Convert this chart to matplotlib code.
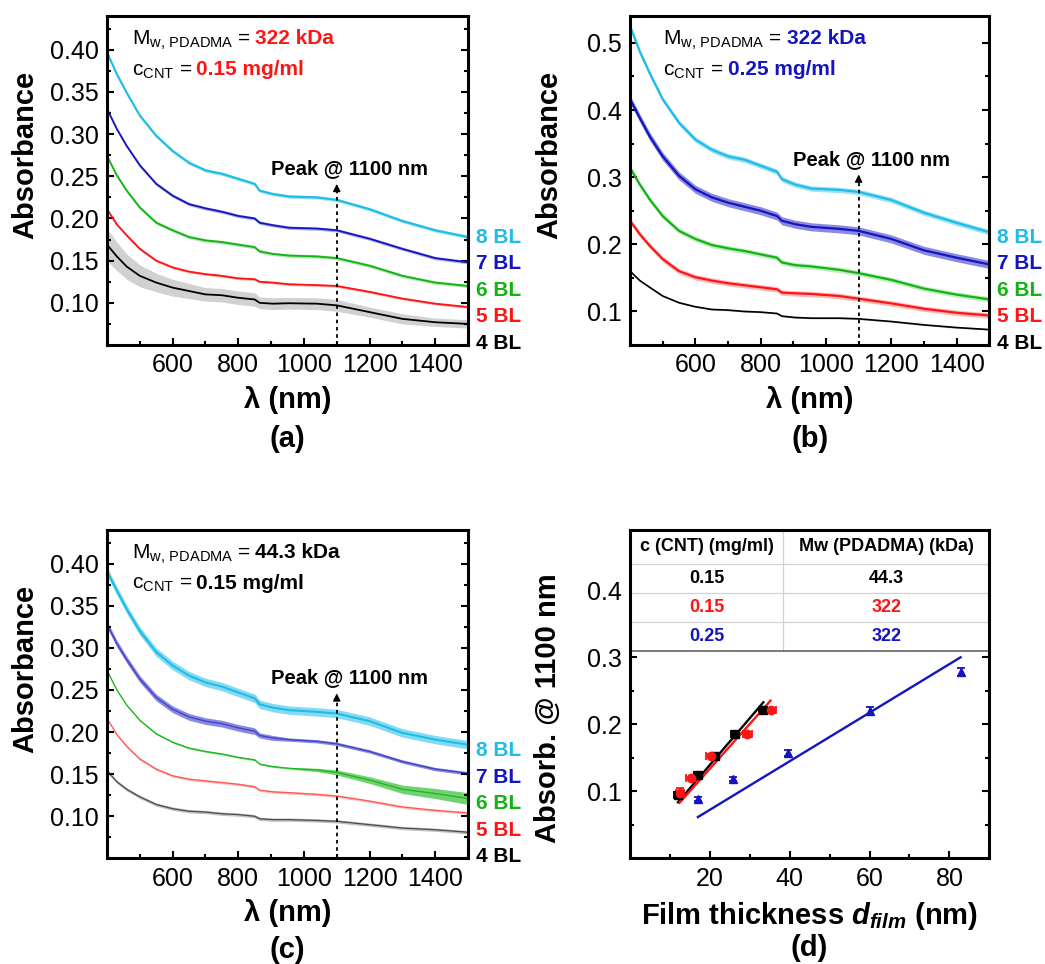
import numpy as np
import matplotlib
matplotlib.use('Agg')
import matplotlib.pyplot as plt
from matplotlib.ticker import MultipleLocator, FixedLocator
from matplotlib.patches import Rectangle

plt.rcParams['font.family'] = 'Liberation Sans'
plt.rcParams['mathtext.fontset'] = 'custom'
plt.rcParams['mathtext.rm'] = 'Liberation Sans'
plt.rcParams['mathtext.it'] = 'Liberation Sans:italic:bold'
plt.rcParams['mathtext.bf'] = 'Liberation Sans:bold'

# wavelength grid (nm), detector change near 860 nm
wl = [400, 430, 460, 500, 550, 600, 650, 700, 750, 800, 850, 865, 905, 955,
      1040, 1100, 1200, 1300, 1400, 1500]

layers = ['4 BL', '5 BL', '6 BL', '7 BL', '8 BL']
colors = ['black', '#ff1414', '#12b312', '#1414c0', '#1ebde8']

# (a) Mw 322 kDa, c 0.15 mg/ml
a_4bl = [0.169, 0.155, 0.143, 0.132, 0.124, 0.118, 0.114, 0.110, 0.109, 0.106, 0.104, 0.100, 0.099, 0.0995, 0.099, 0.097, 0.089, 0.081, 0.077, 0.075]
a_5bl = [0.211, 0.193, 0.180, 0.164, 0.150, 0.142, 0.137, 0.134, 0.132, 0.129, 0.128, 0.125, 0.124, 0.122, 0.121, 0.120, 0.113, 0.105, 0.099, 0.095]
a_6bl = [0.274, 0.251, 0.233, 0.213, 0.195, 0.186, 0.178, 0.174, 0.172, 0.169, 0.166, 0.161, 0.158, 0.156, 0.155, 0.153, 0.144, 0.132, 0.124, 0.120]
a_7bl = [0.330, 0.306, 0.286, 0.263, 0.241, 0.227, 0.217, 0.212, 0.208, 0.203, 0.200, 0.195, 0.192, 0.189, 0.188, 0.186, 0.176, 0.164, 0.153, 0.148]
a_8bl = [0.397, 0.371, 0.349, 0.322, 0.298, 0.280, 0.266, 0.257, 0.253, 0.247, 0.241, 0.233, 0.229, 0.226, 0.225, 0.222, 0.211, 0.197, 0.186, 0.178]
a_4bl_err = [0.019, 0.017, 0.015, 0.013, 0.011, 0.010, 0.009, 0.008, 0.008, 0.008, 0.008, 0.007, 0.007, 0.007, 0.007, 0.007, 0.006, 0.006, 0.005, 0.005]
a_err = [a_4bl_err, 0.0015, 0.002, 0.002, 0.002]

# (b) Mw 322 kDa, c 0.25 mg/ml
b_4bl = [0.160, 0.146, 0.136, 0.123, 0.113, 0.107, 0.103, 0.102, 0.100, 0.099, 0.097, 0.093, 0.091, 0.090, 0.090, 0.089, 0.085, 0.080, 0.076, 0.073]
b_5bl = [0.235, 0.215, 0.198, 0.178, 0.160, 0.151, 0.146, 0.142, 0.139, 0.136, 0.133, 0.128, 0.127, 0.126, 0.123, 0.119, 0.112, 0.104, 0.098, 0.094]
b_6bl = [0.314, 0.289, 0.267, 0.242, 0.220, 0.208, 0.199, 0.194, 0.190, 0.185, 0.180, 0.173, 0.169, 0.167, 0.162, 0.157, 0.147, 0.134, 0.125, 0.118]
b_7bl = [0.416, 0.388, 0.361, 0.331, 0.302, 0.282, 0.270, 0.262, 0.256, 0.250, 0.242, 0.235, 0.230, 0.226, 0.223, 0.220, 0.208, 0.191, 0.180, 0.170]
b_8bl = [0.525, 0.487, 0.455, 0.416, 0.381, 0.356, 0.341, 0.331, 0.326, 0.317, 0.308, 0.297, 0.289, 0.283, 0.281, 0.278, 0.266, 0.247, 0.232, 0.218]
b_err = [0.001, 0.004, 0.004, 0.006, 0.004]

# (c) Mw 44.3 kDa, c 0.15 mg/ml
c_4bl = [0.154, 0.141, 0.132, 0.123, 0.114, 0.109, 0.106, 0.105, 0.103, 0.102, 0.100, 0.097, 0.096, 0.096, 0.095, 0.094, 0.090, 0.086, 0.084, 0.081]
c_5bl = [0.216, 0.197, 0.183, 0.168, 0.156, 0.148, 0.144, 0.142, 0.140, 0.138, 0.135, 0.131, 0.129, 0.128, 0.126, 0.124, 0.118, 0.111, 0.107, 0.104]
c_6bl = [0.273, 0.250, 0.232, 0.214, 0.198, 0.188, 0.181, 0.177, 0.174, 0.170, 0.167, 0.162, 0.159, 0.157, 0.155, 0.152, 0.143, 0.132, 0.127, 0.121]
c_7bl = [0.328, 0.305, 0.286, 0.263, 0.241, 0.227, 0.218, 0.213, 0.210, 0.205, 0.201, 0.196, 0.193, 0.191, 0.189, 0.186, 0.177, 0.165, 0.156, 0.151]
c_8bl = [0.391, 0.368, 0.346, 0.320, 0.295, 0.279, 0.267, 0.259, 0.254, 0.247, 0.240, 0.233, 0.229, 0.226, 0.224, 0.222, 0.213, 0.199, 0.191, 0.185]
c_6bl_err = [0.001, 0.001, 0.001, 0.001, 0.001, 0.001, 0.001, 0.001, 0.001, 0.001, 0.001, 0.001, 0.001, 0.001, 0.002, 0.003, 0.004, 0.005, 0.006, 0.007]
c_7bl_err = [0.004, 0.004, 0.004, 0.004, 0.004, 0.004, 0.004, 0.004, 0.004, 0.004, 0.004, 0.003, 0.003, 0.002, 0.002, 0.002, 0.002, 0.002, 0.002, 0.002]
c_err = [0.002, 0.0015, c_6bl_err, c_7bl_err, 0.005]

# (d) film thickness (nm); absorbance is taken from the spectra at 1100 nm
thick_443_015 = [12.0, 17.0, 21.4, 26.2, 33.4]
thick_322_015 = [12.4, 15.3, 20.4, 29.4, 35.2]
thick_322_025 = [17.0, 25.9, 39.5, 60.0, 82.8]
xerr_443_015 = [1.0, 1.0, 1.0, 1.0, 1.0]
xerr_322_015 = [1.0, 1.2, 1.3, 1.2, 1.3]
yerr_443_015 = [0.002, 0.002, 0.002, 0.002, 0.002]
yerr_322_015 = [0.0075, 0.002, 0.002, 0.002, 0.002]
yerr_322_025 = [0.003, 0.003, 0.005, 0.006, 0.006]

table_header = ['c (CNT) (mg/ml)', 'Mw (PDADMA) (kDa)']
table_conc = ['0.15', '0.15', '0.25']
table_mw = ['44.3', '322', '322']
table_colors = ['black', '#ff1414', '#1414c0']

fig = plt.figure(figsize=(10.45, 9.64), dpi=100)
ax_a = fig.add_axes([0.1024, 0.6421, 0.3455, 0.3413])
ax_b = fig.add_axes([0.6029, 0.6421, 0.3438, 0.3413])
ax_c = fig.add_axes([0.1024, 0.1096, 0.3455, 0.3406])
ax_d = fig.add_axes([0.6029, 0.1096, 0.3438, 0.3406])


def style_axes(ax):
    for sp in ax.spines.values():
        sp.set_linewidth(2.2)
    ax.tick_params(which='both', direction='in', left=True, right=True,
                   top=False, bottom=True, labelsize=18, width=1.5)
    ax.tick_params(which='major', length=5, pad=6)
    ax.tick_params(which='minor', length=3)


def spectra(ax, curves, errs, ylim, yticks, yfmt, mw, conc, hl, info_x, lws,
            alphas, band_alpha, peak_y, tip_y, letter, letter_y):
    x = np.array(wl)
    for i in range(5):
        y = np.array(curves[i])
        e = np.array(errs[i])
        ax.fill_between(x, y - e, y + e, color=colors[i], alpha=band_alpha[i],
                        lw=0)
        ax.plot(x, y, color=colors[i], lw=lws[i], alpha=alphas[i],
                solid_joinstyle='round')
    ax.set_xlim(400, 1500)
    ax.set_ylim(*ylim)
    ax.xaxis.set_major_locator(FixedLocator([600, 800, 1000, 1200, 1400]))
    ax.xaxis.set_minor_locator(MultipleLocator(100))
    ax.yaxis.set_major_locator(FixedLocator(yticks))
    ax.yaxis.set_minor_locator(MultipleLocator((yticks[1] - yticks[0]) / 2))
    ax.set_yticklabels([yfmt % v for v in yticks])
    style_axes(ax)

    ax.set_xlabel(r'λ (nm)', fontsize=21, fontweight='bold', va='center')
    ax.xaxis.set_label_coords(0.5, -0.167)
    ax.set_ylabel('Absorbance', fontsize=21, fontweight='bold', va='center')
    ax.yaxis.set_label_coords(-0.225, 0.578)
    ax.text(0.5, letter_y, letter, transform=ax.transAxes, ha='center',
            va='center', fontsize=21, fontweight='bold')

    # composition info, two lines
    t1 = ax.text(info_x, 0.914, r'M$_{\mathrm{w,}\,\mathrm{PDADMA}}$ =',
                 transform=ax.transAxes, fontsize=15, va='baseline')
    ax.annotate(mw, xy=(1, 0.914), xycoords=(t1, 'axes fraction'),
                xytext=(3, 0), textcoords='offset points',
                fontsize=15, fontweight='bold', color=hl, va='baseline')
    t2 = ax.text(info_x, 0.82, r'c$_{\mathrm{CNT}}$ =', transform=ax.transAxes,
                 fontsize=15, va='baseline')
    ax.annotate(conc, xy=(1, 0.82), xycoords=(t2, 'axes fraction'),
                xytext=(3, 0), textcoords='offset points',
                fontsize=15, fontweight='bold', color=hl, va='baseline')

    # 1100 nm marker
    ax.text(900, peak_y, 'Peak @ 1100 nm', fontsize=14.5, fontweight='bold',
            va='baseline')
    ax.vlines(1100, ylim[0], tip_y - 0.004, colors='k', lw=1.3,
              linestyles=(0, (2, 2)))
    ax.annotate('', xy=(1100, tip_y), xytext=(1100, tip_y - 0.006),
                arrowprops=dict(arrowstyle='-|>', color='k', lw=1.0,
                                mutation_scale=11, shrinkA=0, shrinkB=0))

    for i in range(5):
        ax.text(1.022, 0.005 + i * 0.0808, layers[i], transform=ax.transAxes,
                color=colors[i], fontsize=15, fontweight='bold', va='center',
                clip_on=False)


spectra(ax_a, [a_4bl, a_5bl, a_6bl, a_7bl, a_8bl], a_err, (0.05, 0.44),
        [0.10, 0.15, 0.20, 0.25, 0.30, 0.35, 0.40], '%.2f',
        '322 kDa', '0.15 mg/ml', '#ff1414', 0.068,
        [1.3, 1.3, 1.3, 1.3, 1.5], [1, 1, 1, 1, 1],
        [0.18, 0.35, 0.35, 0.35, 0.45], 0.253, 0.241, '(a)', -0.287)
spectra(ax_b, [b_4bl, b_5bl, b_6bl, b_7bl, b_8bl], b_err, (0.05, 0.54),
        [0.1, 0.2, 0.3, 0.4, 0.5], '%.1f',
        '322 kDa', '0.25 mg/ml', '#1414c0', 0.093,
        [1.2, 1.6, 1.6, 1.6, 1.6], [1, 1, 1, 1, 1],
        [0.3, 0.3, 0.25, 0.5, 0.45], 0.318, 0.304, '(b)', -0.287)
spectra(ax_c, [c_4bl, c_5bl, c_6bl, c_7bl, c_8bl], c_err, (0.05, 0.44),
        [0.10, 0.15, 0.20, 0.25, 0.30, 0.35, 0.40], '%.2f',
        '44.3 kDa', '0.15 mg/ml', 'black', 0.068,
        [0.9, 0.9, 0.9, 1.0, 1.5], [0.6, 0.6, 0.9, 0.6, 1],
        [0.25, 0.3, 0.6, 0.5, 0.55], 0.258, 0.246, '(c)', -0.279)

# (d) absorbance at 1100 nm versus film thickness
i1100 = wl.index(1100)
abs_443_015 = [c[i1100] for c in [c_4bl, c_5bl, c_6bl, c_7bl, c_8bl]]
abs_322_015 = [c[i1100] for c in [a_4bl, a_5bl, a_6bl, a_7bl, a_8bl]]
abs_322_025 = [c[i1100] for c in [b_4bl, b_5bl, b_6bl, b_7bl, b_8bl]]

sets = [
    (thick_443_015, abs_443_015, xerr_443_015, yerr_443_015, 's', 'black'),
    (thick_322_015, abs_322_015, xerr_322_015, yerr_322_015, 'o', '#ff1414'),
    (thick_322_025, abs_322_025, None, yerr_322_025, '^', '#1414c0'),
]
for tx, ty, xe, ye, mk, col in sets:
    tx = np.array(tx)
    ty = np.array(ty)
    ax_d.errorbar(tx, ty, xerr=xe, yerr=ye, fmt=mk, color=col, ms=6,
                  elinewidth=1.3, capsize=3, capthick=1.3)
    # linear fit through the origin
    k = np.sum(tx * ty) / np.sum(tx * tx)
    xf = np.array([tx.min(), tx.max()])
    ax_d.plot(xf, k * xf, color=col, lw=1.7)

ax_d.set_xlim(0, 90)
ax_d.set_ylim(0, 0.49)
ax_d.xaxis.set_major_locator(FixedLocator([20, 40, 60, 80]))
ax_d.xaxis.set_minor_locator(MultipleLocator(10))
ax_d.yaxis.set_major_locator(FixedLocator([0.1, 0.2, 0.3, 0.4]))
ax_d.yaxis.set_minor_locator(MultipleLocator(0.05))
ax_d.set_yticklabels(['0.1', '0.2', '0.3', '0.4'])
style_axes(ax_d)
ax_d.set_xlabel(r'Film thickness $d_{film}$ (nm)', fontsize=21,
                fontweight='bold', va='center')
ax_d.xaxis.set_label_coords(0.5, -0.175)
ax_d.set_ylabel('Absorb. @ 1100 nm', fontsize=21, fontweight='bold',
                va='center')
ax_d.yaxis.set_label_coords(-0.228, 0.457)
ax_d.text(0.5, -0.274, '(d)', transform=ax_d.transAxes, ha='center',
          va='center', fontsize=21, fontweight='bold')
for sp in ax_d.spines.values():
    sp.set_zorder(8)

# table over the upper part of panel (d)
tb_bottom = 0.632
row_h = 0.0883
head_h = 1 - tb_bottom - 3 * row_h
col_split = 0.4267
ax_d.add_patch(Rectangle((0, tb_bottom), 1, 1 - tb_bottom,
                         transform=ax_d.transAxes, facecolor='white',
                         edgecolor='none', zorder=5))
for j in range(3):
    yl = tb_bottom + (j + 1) * row_h
    ax_d.plot([0, 1], [yl, yl], transform=ax_d.transAxes, color='#d2d2d2',
              lw=0.9, zorder=6)
ax_d.plot([col_split, col_split], [tb_bottom, 1], transform=ax_d.transAxes,
          color='#d2d2d2', lw=0.9, zorder=6)
ax_d.plot([0, 1], [tb_bottom, tb_bottom], transform=ax_d.transAxes,
          color='#6e6e6e', lw=1.3, zorder=6)
xc = [col_split / 2, (1 + col_split) / 2]
ax_d.text(xc[0], 1 - head_h / 2, table_header[0], transform=ax_d.transAxes,
          ha='center', va='center', fontsize=13, fontweight='bold', zorder=7)
ax_d.text(xc[1], 1 - head_h / 2, table_header[1], transform=ax_d.transAxes,
          ha='center', va='center', fontsize=13, fontweight='bold', zorder=7)
for j in range(3):
    yc = 1 - head_h - (j + 0.5) * row_h
    ax_d.text(xc[0], yc, table_conc[j], transform=ax_d.transAxes,
              ha='center', va='center', fontsize=13, fontweight='bold',
              color=table_colors[j], zorder=7)
    ax_d.text(xc[1], yc, table_mw[j], transform=ax_d.transAxes,
              ha='center', va='center', fontsize=13, fontweight='bold',
              color=table_colors[j], zorder=7)

fig.savefig('out.png', dpi=100)
